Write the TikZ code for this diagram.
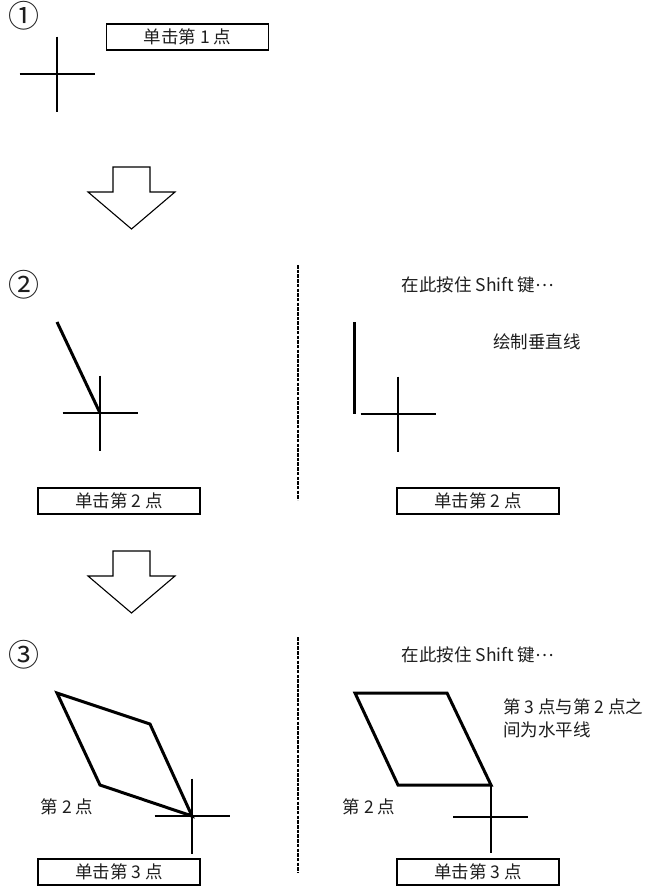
\documentclass[tikz,border=0pt]{standalone}
\usepackage{fontspec}
\newfontfamily\cjk{Noto Sans CJK SC}
\usetikzlibrary{positioning}
\definecolor{ink}{RGB}{30,30,30}
\newcommand\midellipsis{\raisebox{0.3em}{…}}
\tikzset{
  label text/.style={font=\cjk\fontsize{17.5}{23}\selectfont,text=ink,inner sep=0pt},
  step num/.style={font=\cjk\fontsize{31}{32}\selectfont,text=ink,inner sep=0pt},
  click box/.style={draw=black,line width=1.2pt,minimum width=162pt,minimum height=26pt,
    inner sep=0pt,font=\cjk\fontsize{17.5}{18}\selectfont,text=ink},
  thin line/.style={draw=black,line width=1.2pt},
  thick line/.style={draw=black,line width=3pt,line join=miter},
  divider/.style={draw=black,line width=1.6pt,dash pattern=on 3.5pt off 1.2pt},
  % pictograms
  pics/crosshair/.style={code={
    \draw[thin line] (-37.5,0) -- (37.5,0) (0,-37.5) -- (0,37.5);
  }},
  pics/blockarrow/.style={code={
    \draw[black,line width=1.1pt,fill=white] (-18.5,0) -- (18.5,0) -- (18.5,25) -- (43.5,25)
      -- (0,62) -- (-43.5,25) -- (-18.5,25) -- cycle;
  }},
}
\begin{document}
\begin{tikzpicture}[x=1pt,y=-1pt]
  \useasboundingbox (0,0) rectangle (653,886);
  % step 1
  \node[step num] (n1) at (24.5,16) {①};
  \node[click box] (b1) at (187.5,37) {单击第 1 点};
  \pic at (57,74) {crosshair};
  \pic at (131.5,167) {blockarrow};
  % step 2
  \node[step num] (n2) at (24.5,285) {②};
  \draw[thick line] (57,322) coordinate (p2a) -- (100,413) coordinate (p2b);
  \pic at (p2b) {crosshair};
  \node[click box] (b2l) at (119,501) {单击第 2 点};
  \draw[divider] (298,265) -- (298,500);
  \node[label text] (s2) at (478,285) {在此按住 Shift 键\midellipsis};
  \node[label text] (v2) at (537,342) {绘制垂直线};
  \draw[thick line] (354,322) -- (354,414);
  \pic at (398,414) {crosshair};
  \node[click box] (b2r) at (478,501) {单击第 2 点};
  \pic at (131.5,551) {blockarrow};
  % step 3
  \node[step num] (n3) at (24.5,655) {③};
  \draw[thick line] (57,693) -- (150,724) -- (192,816) coordinate (p3) -- (100,785) -- cycle;
  \pic at (p3) {crosshair};
  \node[label text] (t3l) at (67,807) {第 2 点};
  \node[click box] (b3l) at (119,872) {单击第 3 点};
  \draw[divider] (298,637) -- (298,873);
  \node[label text] (s3) at (478,655) {在此按住 Shift 键\midellipsis};
  \node[label text,anchor=west,align=left] (h3) at (503,718.5) {第 3 点与第 2 点之\\间为水平线};
  \draw[thick line] (355,693) -- (447,693) -- (491,785) coordinate (q3) -- (398,785) -- cycle;
  \draw[thin line] (q3) -- (491,853);
  \draw[thin line] (453,817) -- (528,817);
  \node[label text] (t3r) at (369,807) {第 2 点};
  \node[click box] (b3r) at (478,872) {单击第 3 点};
\end{tikzpicture}
\end{document}
